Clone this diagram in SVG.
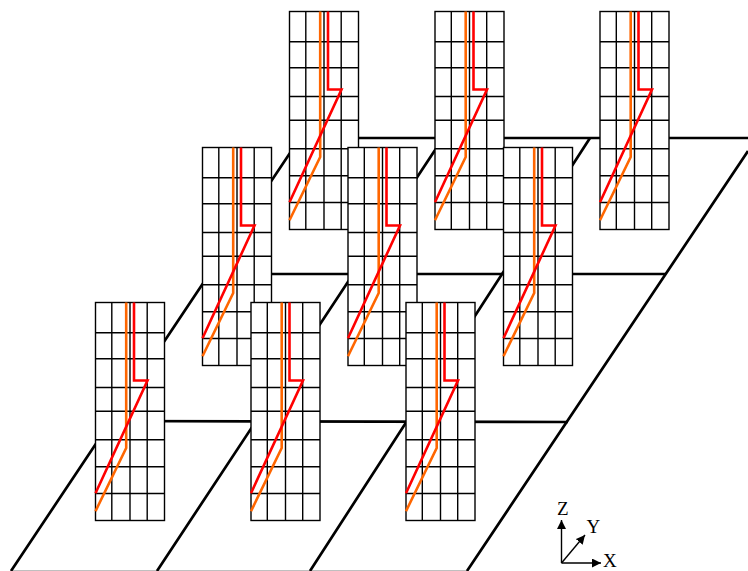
<svg xmlns="http://www.w3.org/2000/svg" width="748" height="571" viewBox="0 0 748 571">
<style>
.floor{fill:none;stroke:#000;stroke-width:2.7}
.cell{fill:#fff;stroke:#000;stroke-width:1.4}
.ln{fill:none;stroke:#000;stroke-width:1.4}
.o{fill:none;stroke:#f60;stroke-width:2.6}
.r{fill:none;stroke:#f00;stroke-width:2.6}
.ax{fill:none;stroke:#000;stroke-width:1.4}
.t{font-family:"Liberation Serif",serif;font-size:19px;fill:#000}
</style>
<defs>
<marker id="ah" markerUnits="userSpaceOnUse" markerWidth="10" markerHeight="10" refX="9" refY="4.5" orient="auto"><path d="M0 0L9 4.5L0 9Z" fill="#000"/></marker>
<g id="panel">
<rect class="cell" x="0" y="0" width="69" height="218"/>
<path class="ln" d="M16.3 0V218M34.5 0V218M51.7 0V218M0 30.3H69M0 56.3H69M0 85H69M0 108.7H69M0 137.3H69M0 164.3H69M0 191H69"/>
<path class="o" d="M30.7 0V145.5L0 208.7"/>
<path class="r" d="M38.5 0V78H52L0 190.7"/>
</g>
</defs>
<g id="connectors">
<path class="floor" d="M300 138H748M202 274H666M95 421L568 422"/>
<path class="floor" d="M11 571L300 138M157 571L443 138M310 571L590 138M467 571L748 151"/>
<path class="floor" d="M11 572.1H467"/>
</g>
<g id="p1"><use href="#panel" x="289.5" y="11.5"/></g>
<g id="p2"><use href="#panel" x="435" y="11.5"/></g>
<g id="p3"><use href="#panel" x="600" y="11.5"/></g>
<g id="p4"><use href="#panel" x="202.5" y="147.5"/></g>
<g id="p5"><use href="#panel" x="348" y="147.5"/></g>
<g id="p6"><use href="#panel" x="503.5" y="147.5"/></g>
<g id="p7"><use href="#panel" x="95.5" y="302.5"/></g>
<g id="p8"><use href="#panel" x="251" y="302.5"/></g>
<g id="p9"><use href="#panel" x="406" y="302.5"/></g>
<g id="axes">
<path class="ax" d="M561.5 563V520" marker-end="url(#ah)"/>
<path class="ax" d="M561.5 563H601" marker-end="url(#ah)"/>
<path class="ax" d="M561.5 563L585 535" marker-end="url(#ah)"/>
<text class="t" x="557" y="515">Z</text>
<text class="t" x="586.5" y="533">Y</text>
<text class="t" x="603" y="567">X</text>
</g>
</svg>
